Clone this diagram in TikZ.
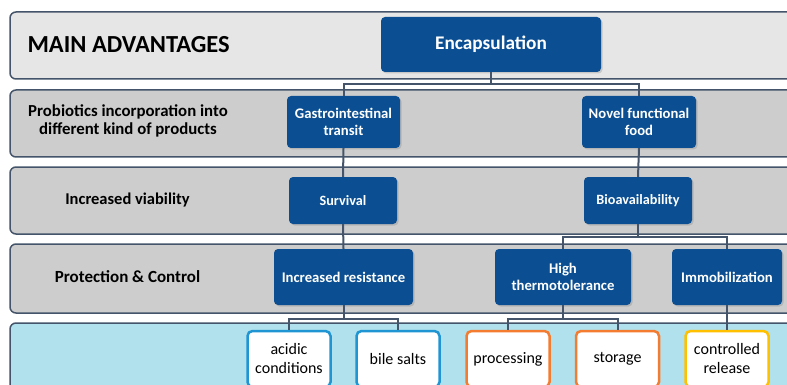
\documentclass[tikz,border=0pt]{standalone}
\usepackage{fontspec}
\setmainfont{Carlito}
\usetikzlibrary{positioning,shadows}
\definecolor{navy}{HTML}{0B4F92}
\definecolor{slate}{HTML}{44546A}
\definecolor{bandlight}{HTML}{E6E6E6}
\definecolor{banddark}{HTML}{CDCDCD}
\definecolor{bandblue}{HTML}{B0E1EC}
\definecolor{skyline}{HTML}{1F96D3}
\definecolor{orangeline}{HTML}{F47C30}
\definecolor{goldline}{HTML}{FFC000}

\tikzset{
  band/.style={draw=slate,line width=1.5pt,rounded corners=6pt},
  bandlabel/.style={font=\bfseries,align=center,text=black},
  bluebox/.style={fill=navy,text=white,font=\bfseries,align=center,rounded corners=4pt,
    drop shadow={opacity=0.3,shadow xshift=1.5pt,shadow yshift=-1.5pt}},
  leafbox/.style={fill=white,line width=2.5pt,rounded corners=5pt,align=center,
    font=\fontsize{16}{19}\selectfont,minimum width=83pt,minimum height=56pt},
  link/.style={draw=slate,line width=2pt}
}

\begin{document}
\begin{tikzpicture}[x=1pt,y=-1pt]
\useasboundingbox (0,0) rectangle (787,385);
\clip (0,0) rectangle (787,385);
% bands
\draw[band,fill=bandlight] (10,12) rectangle (800,79);
\draw[band,fill=banddark] (10,90) rectangle (800,157);
\draw[band,fill=banddark] (10,167) rectangle (800,234);
\draw[band,fill=banddark] (10,244) rectangle (800,313);
\draw[band,fill=bandblue] (10,323) rectangle (800,400);

\node[bandlabel,font=\fontsize{24.5}{28}\selectfont\bfseries,anchor=west] (mainadv) at (24,45) {MAIN ADVANTAGES};
\node[bandlabel,font=\fontsize{16.8}{18}\selectfont\bfseries] (incorp) at (128,121) {Probiotics incorporation into\\different kind of products};
\node[bandlabel,font=\fontsize{16.5}{19}\selectfont\bfseries] (viab) at (127.5,200) {Increased viability};
\node[bandlabel,font=\fontsize{17}{20}\selectfont\bfseries] (protect) at (127.5,277) {Protection \& Control};

% blue boxes
\node[bluebox,font=\fontsize{19.3}{22}\selectfont\bfseries,minimum width=220pt,minimum height=55pt] (encap) at (491,44.5) {Encapsulation};
\node[bluebox,font=\fontsize{14.7}{17}\selectfont\bfseries,minimum width=113pt,minimum height=52pt] (gastro) at (343.5,122) {Gastrointestinal\\transit};
\node[bluebox,font=\fontsize{14.7}{17}\selectfont\bfseries,minimum width=114pt,minimum height=52pt] (novel) at (639,122) {Novel functional\\food};
\node[bluebox,font=\fontsize{14.2}{16}\selectfont\bfseries,minimum width=108pt,minimum height=47pt] (survival) at (343,200.5) {Survival};
\node[bluebox,font=\fontsize{14.2}{16}\selectfont\bfseries,minimum width=108pt,minimum height=47pt] (bioav) at (638,200.5) {Bioavailability};
\node[bluebox,font=\fontsize{14.7}{17}\selectfont\bfseries,minimum width=139pt,minimum height=56pt] (resist) at (343.5,277) {Increased resistance};
\node[bluebox,font=\fontsize{14.7}{17}\selectfont\bfseries,minimum width=136pt,minimum height=56pt] (thermo) at (563,277) {High\\thermotolerance};
\node[bluebox,font=\fontsize{14.7}{17}\selectfont\bfseries,minimum width=110pt,minimum height=56pt] (immob) at (727,277) {Immobilization};

% leaf boxes
\node[leafbox,draw=skyline] (acidic) at (289,359) {acidic\\conditions};
\node[leafbox,draw=skyline] (bile) at (398,359) {bile salts};
\node[leafbox,draw=orangeline] (process) at (508,359) {processing};
\node[leafbox,draw=orangeline] (storage) at (617.5,359) {storage};
\node[leafbox,draw=goldline] (release) at (727,359) {controlled\\release};

% connectors
\coordinate (bar1) at (0,84);
\coordinate (bar2) at (0,237);
\coordinate (bar3) at (0,319);
\draw[link] (encap.south) -- (encap.south |- bar1);
\draw[link] (gastro.north) |- (novel.north |- bar1) -- (novel.north);
\draw[link] (gastro.south) -- (survival.north);
\draw[link] (novel.south) -- (bioav.north);
\draw[link] (survival.south) -- (resist.north);
\draw[link] (bioav.south) -- (bioav.south |- bar2);
\draw[link] (thermo.north) |- (immob.north |- bar2) -- (immob.north);
\draw[link] (resist.south) -- (resist.south |- bar3);
\draw[link] (acidic.north) |- (bile.north |- bar3) -- (bile.north);
\draw[link] (thermo.south) -- (thermo.south |- bar3);
\draw[link] (process.north) |- (storage.north |- bar3) -- (storage.north);
\draw[link] (immob.south) -- (release.north);
\end{tikzpicture}
\end{document}
